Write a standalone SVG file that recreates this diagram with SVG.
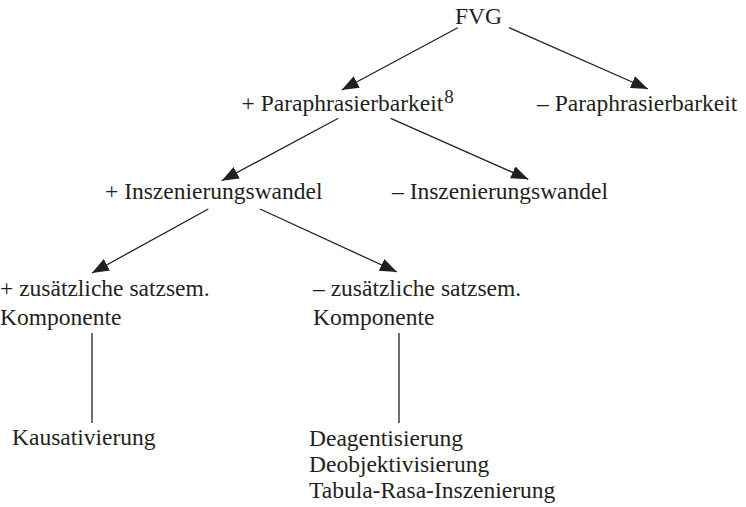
<svg xmlns="http://www.w3.org/2000/svg" width="746" height="507" viewBox="0 0 746 507">
<style>
text{font-family:"Liberation Serif","Times New Roman",serif;font-size:23.5px;fill:#231f20}
.sup{font-size:19px}
.c line{stroke:#231f20;stroke-width:1.3}
</style>
<defs>
<marker id="ah" markerUnits="userSpaceOnUse" markerWidth="18" markerHeight="14" refX="17" refY="6.5" orient="auto">
<path d="M0,0 L17,6.5 L0,13 z" fill="#231f20"/>
</marker>
</defs>
<rect width="746" height="507" fill="#fff"/>
<g class="c">
<line x1="457.7" y1="27.7" x2="341.7" y2="90" marker-end="url(#ah)"/>
<line x1="509" y1="27.7" x2="648" y2="89" marker-end="url(#ah)"/>
<line x1="338.3" y1="118.3" x2="221.7" y2="180.7" marker-end="url(#ah)"/>
<line x1="390.7" y1="118.3" x2="528.3" y2="179.3" marker-end="url(#ah)"/>
<line x1="208.3" y1="209" x2="92" y2="273" marker-end="url(#ah)"/>
<line x1="260" y1="209" x2="397" y2="272" marker-end="url(#ah)"/>
<line x1="92" y1="333" x2="92" y2="423"/>
<line x1="399" y1="333" x2="399" y2="423"/>
</g>
<g id="n-fvg"><text x="455" y="24">FVG</text></g>
<g id="n-ppar"><text x="241.5" y="111">+ Paraphrasierbarkeit<tspan class="sup" dx="1" dy="-8">8</tspan></text></g>
<g id="n-mpar"><text x="537" y="111">– Paraphrasierbarkeit</text></g>
<g id="n-pinsz"><text x="105" y="199">+ Inszenierungswandel</text></g>
<g id="n-minsz"><text x="392" y="199">– Inszenierungswandel</text></g>
<g id="n-pzus"><text x="0" y="296">+ zusätzliche satzsem.</text><text x="0" y="325">Komponente</text></g>
<g id="n-mzus"><text x="313" y="296">– zusätzliche satzsem.</text><text x="313" y="325">Komponente</text></g>
<g id="n-kaus"><text x="12" y="445">Kausativierung</text></g>
<g id="n-deag"><text x="309" y="446">Deagentisierung</text><text x="309" y="472">Deobjektivisierung</text><text x="309" y="498">Tabula-Rasa-Inszenierung</text></g>
</svg>
